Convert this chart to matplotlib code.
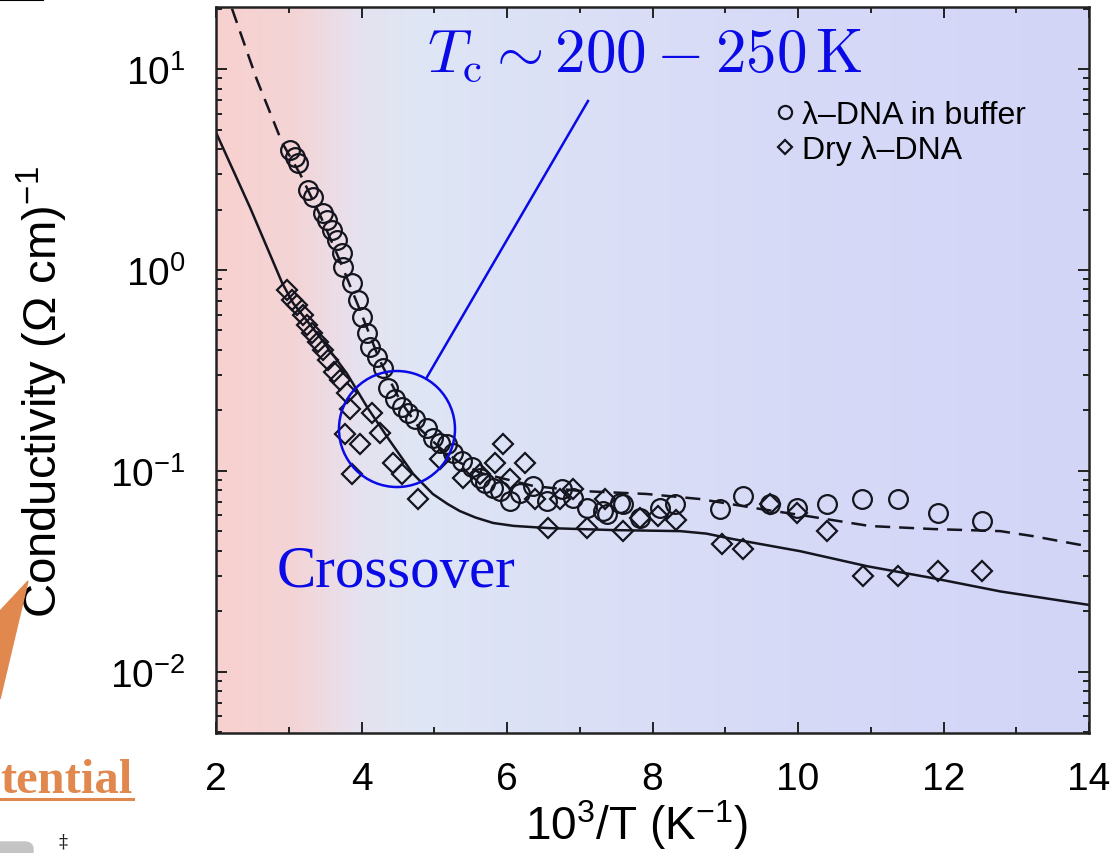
import numpy as np
import matplotlib
matplotlib.use("Agg")
import matplotlib.pyplot as plt
from matplotlib.colors import LinearSegmentedColormap
from matplotlib.patches import Ellipse, Polygon, FancyBboxPatch
from matplotlib.lines import Line2D

plt.rcParams['font.family'] = ['Liberation Sans', 'DejaVu Sans']
plt.rcParams['mathtext.fontset'] = 'custom'
plt.rcParams['mathtext.rm'] = 'Liberation Sans'
plt.rcParams['mathtext.it'] = 'Liberation Sans:italic'
plt.rcParams['mathtext.bf'] = 'Liberation Sans:bold'

# lambda-DNA in buffer (open circles): 10^3/T, conductivity
buffer_x = [3.02, 3.09, 3.13, 3.27, 3.33, 3.47, 3.53, 3.59, 3.66, 3.73, 3.75,
            3.87, 3.95, 4.01, 4.08, 4.12, 4.21, 4.30, 4.36, 4.46, 4.56, 4.64,
            4.74, 4.90, 4.98, 5.08, 5.18, 5.26, 5.38, 5.52, 5.63, 5.70, 5.81,
            5.90, 6.04, 6.18, 6.36, 6.55, 6.76, 6.91, 7.10, 7.32, 7.38, 7.55,
            7.59, 7.83, 8.10, 8.31, 8.93, 9.24, 9.62, 9.99, 10.40, 10.88,
            11.37, 11.92, 12.53]
buffer_y = [3.98, 3.67, 3.43, 2.51, 2.32, 1.93, 1.78, 1.58, 1.41, 1.22, 1.03,
            0.861, 0.708, 0.582, 0.484, 0.412, 0.367, 0.327, 0.260, 0.229,
            0.207, 0.193, 0.182, 0.164, 0.145, 0.138, 0.136, 0.123, 0.112,
            0.104, 0.0923, 0.0871, 0.0822, 0.0794, 0.0708, 0.0776, 0.0841,
            0.0708, 0.0813, 0.0733, 0.0653, 0.0631, 0.0610, 0.0692, 0.0684,
            0.0582, 0.0653, 0.0684, 0.0646, 0.0750, 0.0684, 0.0653, 0.0684,
            0.0724, 0.0724, 0.0617, 0.0562]

# dry lambda-DNA (open diamonds)
dry_x = [2.98, 3.05, 3.11, 3.20, 3.25, 3.32, 3.40, 3.47, 3.54, 3.62, 3.70,
         3.80, 3.84, 4.14, 4.25, 3.77, 3.98, 3.87, 4.43, 4.56, 4.78, 5.08,
         5.40, 5.63, 5.84, 5.95, 6.25, 6.04, 6.39, 6.56, 6.73, 6.91, 7.10,
         7.35, 7.59, 7.83, 8.08, 8.32, 8.96, 9.24, 9.62, 9.99, 10.40, 10.89,
         11.37, 11.92, 12.53]
dry_y = [0.794, 0.708, 0.668, 0.596, 0.531, 0.484, 0.437, 0.398, 0.355,
         0.309, 0.282, 0.245, 0.204, 0.193, 0.155, 0.153, 0.136, 0.0966,
         0.110, 0.0966, 0.0724, 0.115, 0.0923, 0.0966, 0.110, 0.136, 0.110,
         0.0912, 0.0724, 0.0519, 0.0724, 0.0813, 0.0519, 0.0724, 0.0501,
         0.0582, 0.0596, 0.0569, 0.0432, 0.0407, 0.0684, 0.0617, 0.0501,
         0.0299, 0.0299, 0.0316, 0.0316]

# model curve through the buffer data (dashed)
buffer_fit_x = [2.22, 2.56, 2.91, 3.16, 3.43, 3.70, 3.98, 4.25, 4.53, 4.80,
                5.08, 5.35, 5.63, 6.08, 6.36, 7.00, 7.92, 8.65, 9.48, 10.12,
                10.99, 11.86, 12.78, 13.23, 14.00]
buffer_fit_y = [20.0, 8.9, 4.3, 2.99, 1.88, 1.12, 0.63, 0.355, 0.224, 0.162,
                0.130, 0.110, 0.0977, 0.0891, 0.0841, 0.0794, 0.0767, 0.0724,
                0.0646, 0.0596, 0.0531, 0.0513, 0.0501, 0.0473, 0.0420]

# model curve through the dry data (solid)
dry_fit_x = [2.00, 2.47, 2.91, 3.06, 3.43, 3.80, 4.08, 4.39, 4.71, 4.98,
             5.18, 5.35, 5.57, 5.81, 6.09, 6.55, 7.46, 8.38, 8.74, 9.11,
             10.03, 10.95, 11.86, 12.78, 14.00]
dry_fit_y = [4.84, 2.04, 0.861, 0.684, 0.462, 0.305, 0.207, 0.141, 0.0966,
             0.0767, 0.0685, 0.0631, 0.0585, 0.0550, 0.0532, 0.0519, 0.0507,
             0.0501, 0.0487, 0.0457, 0.0398, 0.0335, 0.0292, 0.0251, 0.0215]

x_ticks = [2, 4, 6, 8, 10, 12, 14]
legend_labels = ['\u03bb\u2013DNA in buffer', 'Dry \u03bb\u2013DNA']

W, H = 1115, 854
fig = plt.figure(figsize=(W / 100, H / 100), dpi=100)
ax = fig.add_axes([216 / W, 1 - 734 / H, (1089 - 216) / W, (734 - 8) / H])

# background colour wash, warm on the high-temperature side
bg = LinearSegmentedColormap.from_list('bg', [
    (0.00, '#f8d1cf'), (0.09, '#f4d4d6'), (0.16, '#e6e2ef'),
    (0.23, '#dfe6f4'), (0.40, '#dbe0f6'), (0.70, '#d6d9f7'),
    (1.00, '#d3d5f7')])
ax.imshow(np.linspace(0, 1, 512)[None, :], cmap=bg, aspect='auto',
          extent=(0, 1, 0, 1), transform=ax.transAxes, zorder=0)

ink = '#15151f'
ax.plot(buffer_fit_x, buffer_fit_y, color=ink, lw=1.8, ls=(0, (6, 3.6)),
        zorder=2)
ax.plot(dry_fit_x, dry_fit_y, color=ink, lw=1.8, zorder=2)
h1, = ax.plot(buffer_x, buffer_y, ls='none', marker='o', ms=13.5, mfc='none',
              mec=ink, mew=1.6, zorder=3)
h2, = ax.plot(dry_x, dry_y, ls='none', marker='D', ms=10, mfc='none',
              mec=ink, mew=1.6, zorder=3)

ax.set_yscale('log')
ax.set_xlim(2, 14)
ax.set_ylim(4.95e-3, 20.4)
ax.set_xticks(x_ticks)
ax.set_xticks(np.arange(3, 14, 2), minor=True)
ax.tick_params(which='both', direction='in', top=True, right=True,
               width=1.4, color='#222', labelsize=28, pad=22)
ax.tick_params(axis='x', which='both', pad=20)
ax.tick_params(which='major', length=8)
ax.tick_params(which='minor', length=4.5)
for s in ax.spines.values():
    s.set_linewidth(1.8)
    s.set_color('#222')

ax.set_xlabel(r'10$^3$/T (K$^{-1}$)', fontsize=33)
ax.xaxis.set_label_coords(0.482, -0.088)
ax.set_ylabel(r'Conductivity ($\Omega$ cm)$^{-1}$', fontsize=34)
ax.yaxis.set_label_coords(-0.167, 0.471)

ax.legend([h1, h2], legend_labels, loc='upper left',
          bbox_to_anchor=(0.6415, 0.872), frameon=False, fontsize=23,
          markerscale=0.7, handlelength=0.55, handletextpad=0.25,
          borderpad=0, borderaxespad=0, labelspacing=0.15)

# crossover annotation
blue = '#0a0ae6'
ax.add_patch(Ellipse((0.2073, 0.4187), 116 / 873, 116 / 726,
                     transform=ax.transAxes, fill=False, ec=blue, lw=1.8,
                     zorder=4))
ax.plot([(427 - 216) / 873, (588 - 216) / 873],
        [(734 - 378) / 726, (734 - 102) / 726], color=blue, lw=1.8,
        transform=ax.transAxes, zorder=4)
fig.text(645 / W, 1 - 72 / H, r'$T_{\mathrm{c}} \sim 200 - 250\,\mathrm{K}$',
         color=blue, fontsize=44, ha='center', va='baseline',
         math_fontfamily='cm')
fig.text(277 / W, 1 - 587 / H, 'Crossover', color=blue, fontsize=42.5,
         family='Liberation Serif', ha='left', va='baseline')

# slide fragments around the figure
orange = '#e0884e'
fig.add_artist(Line2D([0, 43 / W], [1 - 1 / H, 1 - 1 / H], color='black',
                      lw=1.5))
fig.add_artist(Polygon([[0, 1 - 612 / H], [28 / W, 1 - 582 / H],
                        [0, 1 - 700 / H]], closed=True, color=orange,
                       transform=fig.transFigure))
fig.text(0, 1 - 793 / H, 'tential', color=orange, fontsize=35,
         family='Liberation Serif', weight='bold', ha='left',
         va='baseline')
fig.add_artist(Line2D([0, 133 / W], [1 - 800 / H, 1 - 800 / H],
                      color=orange, lw=2.2))
fig.text(63 / W, 1 - 834 / H, '\u2021', fontsize=13, ha='center',
         va='top', color='#222', family='DejaVu Serif')
fig.add_artist(FancyBboxPatch((-10 / W, -10 / H), 43 / W, 21 / H,
                              boxstyle='round,pad=0,rounding_size=0.008',
                              transform=fig.transFigure, color='#c4c4c4'))

fig.savefig('out.png', dpi=100)
